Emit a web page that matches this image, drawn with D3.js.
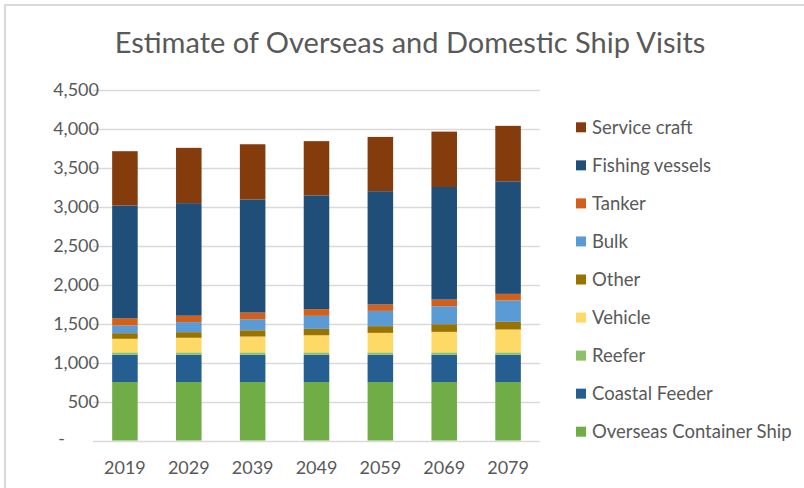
<!DOCTYPE html>
<html>
<head>
<meta charset="utf-8">
<script src="https://cdn.jsdelivr.net/npm/d3@7"></script>
<style>
  html, body { margin: 0; padding: 0; background: #fff; }
  svg { display: block; font-family: Lato, "Open Sans", sans-serif; }
</style>
</head>
<body>
<svg id="chart" width="804" height="488"></svg>
<script>
// Projected ship visits per year, by vessel type (stacked bottom to top)
const years = ["2019", "2029", "2039", "2049", "2059", "2069", "2079"];

const overseasContainer = [750, 750, 750, 750, 750, 750, 750];
const coastalFeeder     = [350, 350, 350, 350, 350, 350, 350];
const reefer            = [30, 30, 30, 30, 30, 30, 30];
const vehicle           = [174, 187, 203, 219, 250, 263, 293];
const other             = [72, 72, 80, 82, 86, 98, 98];
const bulk              = [98, 129, 141, 167, 196, 230, 274];
const tanker            = [94, 82, 86, 86, 82, 86, 85];
const fishingVessels    = [1445, 1443, 1449, 1458, 1452, 1443, 1443];
const serviceCraft      = [696, 709, 709, 696, 696, 710, 711];

const yTicks = [0, 500, 1000, 1500, 2000, 2500, 3000, 3500, 4000, 4500];

const series = [
  { name: "Overseas Container Ship", values: overseasContainer, color: "#70AD47" },
  { name: "Coastal Feeder",          values: coastalFeeder,     color: "#255E91" },
  { name: "Reefer",                  values: reefer,            color: "#8CC168" },
  { name: "Vehicle",                 values: vehicle,           color: "#FFD966" },
  { name: "Other",                   values: other,             color: "#997300" },
  { name: "Bulk",                    values: bulk,              color: "#5B9BD5" },
  { name: "Tanker",                  values: tanker,            color: "#D2601A" },
  { name: "Fishing vessels",         values: fishingVessels,    color: "#1F4E79" },
  { name: "Service craft",           values: serviceCraft,      color: "#843C0C" }
];

const textColor = "#595959";
const gridColor = "#d9d9d9";

const svg = d3.select("#chart");

// outer frame (only top/left edges fall inside the canvas)
svg.append("rect")
  .attr("x", 5).attr("y", 5)
  .attr("width", 820).attr("height", 500)
  .attr("fill", "none")
  .attr("stroke", gridColor)
  .attr("stroke-width", 2);

// title
svg.append("text")
  .attr("x", 410).attr("y", 53)
  .attr("text-anchor", "middle")
  .attr("fill", textColor)
  .attr("font-size", 29)
  .text("Estimate of Overseas and Domestic Ship Visits");

const plot = { left: 93, right: 540, top: 89.5, bottom: 440.5 };

const x = d3.scaleBand()
  .domain(years)
  .range([plot.left, plot.right])
  .paddingInner(0.6)
  .paddingOuter(0.3);

const y = d3.scaleLinear()
  .domain([0, 4500])
  .range([plot.bottom, plot.top]);

// gridlines
svg.append("g")
  .selectAll("line")
  .data(yTicks)
  .join("line")
  .attr("x1", plot.left).attr("x2", plot.right)
  .attr("y1", d => Math.round(y(d)) + 0.5)
  .attr("y2", d => Math.round(y(d)) + 0.5)
  .attr("stroke", gridColor)
  .attr("stroke-width", 1.3);

// y axis labels (accounting style: zero shown as a dash)
const fmt = d3.format(",");
const yAxis = d3.axisLeft(y)
  .tickValues(yTicks)
  .tickSize(0)
  .tickPadding(0)
  .tickFormat(d => d === 0 ? "-" : fmt(d));

const gy = svg.append("g")
  .attr("transform", `translate(99,0)`)
  .call(yAxis);
gy.select(".domain").remove();
gy.selectAll("text")
  .attr("fill", textColor)
  .attr("font-size", 18)
  .attr("font-family", "Lato, 'Open Sans', sans-serif")
  .attr("dy", "0.35em");
gy.selectAll(".tick")
  .filter(d => d === 0)
  .select("text")
  .attr("x", -34)
  .attr("dy", "0.2em");

// x axis labels
const xAxis = d3.axisBottom(x).tickSize(0).tickPadding(0);
const gx = svg.append("g")
  .attr("transform", `translate(0,${plot.bottom})`)
  .call(xAxis);
gx.select(".domain").remove();
gx.selectAll("text")
  .attr("fill", textColor)
  .attr("font-size", 18)
  .attr("font-family", "Lato, 'Open Sans', sans-serif")
  .attr("dy", 0)
  .attr("y", 33);

// stacked bars
const table = years.map((yr, i) => {
  const row = { year: yr };
  series.forEach(s => { row[s.name] = s.values[i]; });
  return row;
});
const stack = d3.stack().keys(series.map(s => s.name));
const layers = stack(table);

svg.append("g")
  .selectAll("g")
  .data(layers)
  .join("g")
  .attr("fill", (d, i) => series[i].color)
  .selectAll("rect")
  .data(d => d)
  .join("rect")
  .attr("x", d => x(d.data.year))
  .attr("width", x.bandwidth())
  .attr("y", d => y(d[1]))
  .attr("height", d => y(d[0]) - y(d[1]));

// legend (top series listed first)
const legend = svg.append("g")
  .selectAll("g")
  .data(series.slice().reverse())
  .join("g")
  .attr("transform", (d, i) => `translate(576,${122.3 + i * 38.05})`);

legend.append("rect")
  .attr("width", 10).attr("height", 10)
  .attr("fill", d => d.color);

legend.append("text")
  .attr("x", 16).attr("y", 11.5)
  .attr("fill", textColor)
  .attr("font-size", 18.5)
  .text(d => d.name);
</script>
</body>
</html>
